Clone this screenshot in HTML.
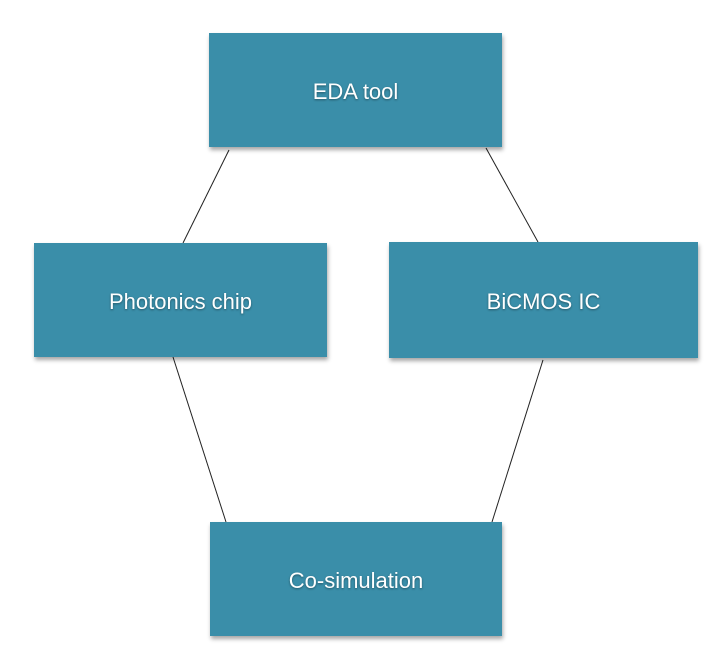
<!DOCTYPE html>
<html><head><style>
body{margin:0;width:728px;height:670px;background:#fff;position:relative;overflow:hidden;font-family:"Liberation Sans",sans-serif}
.b{position:absolute;background:#3a8ea9;box-shadow:1px 3px 4px rgba(0,0,0,.35);color:#fff;font-size:22px;display:flex;align-items:center;justify-content:center;text-shadow:0 1px 2px rgba(0,0,0,.4);padding-top:4px;box-sizing:border-box}
svg{position:absolute;left:0;top:0}
</style></head><body>
<svg width="728" height="670"><g stroke="#222" stroke-width="1">
<line x1="229" y1="150" x2="183" y2="243"/>
<line x1="486" y1="148" x2="538" y2="242"/>
<line x1="173" y1="357" x2="226" y2="522"/>
<line x1="543" y1="360" x2="492" y2="522"/>
</g></svg>
<div class="b" style="left:209px;top:33px;width:293px;height:114px">EDA tool</div>
<div class="b" style="left:34px;top:243px;width:293px;height:114px">Photonics chip</div>
<div class="b" style="left:389px;top:242px;width:309px;height:116px">BiCMOS IC</div>
<div class="b" style="left:210px;top:522px;width:292px;height:114px">Co-simulation</div>
</body></html>
